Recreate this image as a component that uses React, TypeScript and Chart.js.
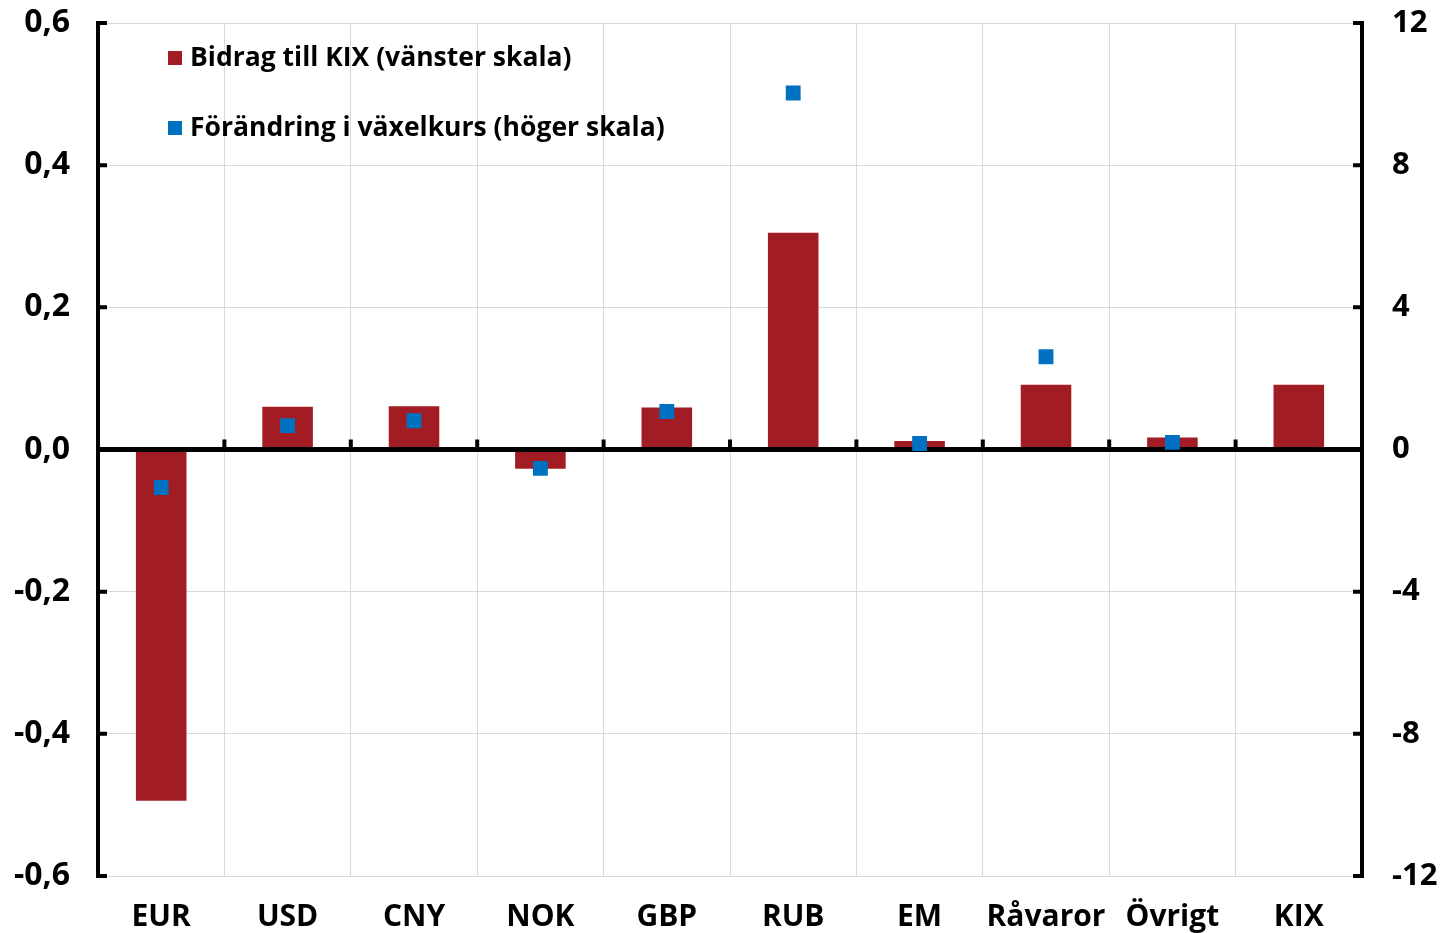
import React, { useEffect, useRef } from "react";
import { Chart, registerables } from "chart.js";

Chart.register(...registerables);

const categories = ["EUR", "USD", "CNY", "NOK", "GBP", "RUB", "EM", "Råvaror", "Övrigt", "KIX"];
const barLabel = "Bidrag till KIX (vänster skala)";
const pointLabel = "Förändring i växelkurs (höger skala)";
const barValues = [-0.494, 0.06, 0.061, -0.027, 0.059, 0.305, 0.012, 0.091, 0.017, 0.091];
const pointValues: (number | null)[] = [-1.07, 0.67, 0.81, -0.53, 1.07, 10.03, 0.17, 2.61, 0.2, null];
const leftTicks = { min: -0.6, max: 0.6, step: 0.2 };
const rightTicks = { min: -12, max: 12, step: 4 };

const RED = "#A21C24";
const BLUE = "#0070C0";
const GRID = "#d9d9d9";
const FONT = "'Open Sans'";

const axesPlugin = {
  id: "customAxes",
  afterDatasetDraw(chart: any, args: any) {
    if (args.index !== 0) return;
    const { ctx, chartArea } = chart;
    const y = chart.scales.y;
    const x = chart.scales.x;
    const y0 = y.getPixelForValue(0);
    ctx.save();
    ctx.strokeStyle = "#000";
    ctx.lineWidth = 5;
    ctx.beginPath();
    ctx.moveTo(chartArea.left, y0);
    ctx.lineTo(chartArea.right, y0);
    ctx.stroke();
    ctx.lineWidth = 4;
    for (let i = 1; i < categories.length; i++) {
      const bx = (x.getPixelForValue(i - 1) + x.getPixelForValue(i)) / 2;
      ctx.beginPath();
      ctx.moveTo(bx, y0);
      ctx.lineTo(bx, y0 - 10);
      ctx.stroke();
    }
    ctx.restore();
  },
  afterDraw(chart: any) {
    const { ctx, chartArea } = chart;
    const y = chart.scales.y;
    ctx.save();
    ctx.strokeStyle = "#000";
    ctx.lineWidth = 4;
    ctx.beginPath();
    ctx.moveTo(chartArea.left, chartArea.top - 2);
    ctx.lineTo(chartArea.left, chartArea.bottom + 2);
    ctx.moveTo(chartArea.right, chartArea.top - 2);
    ctx.lineTo(chartArea.right, chartArea.bottom + 2);
    ctx.stroke();
    y.ticks.forEach((t: any) => {
      const py = y.getPixelForValue(t.value);
      ctx.beginPath();
      ctx.moveTo(chartArea.left, py);
      ctx.lineTo(chartArea.left + 9, py);
      ctx.moveTo(chartArea.right, py);
      ctx.lineTo(chartArea.right - 9, py);
      ctx.stroke();
    });
    // legend
    const items = [
      { label: chart.data.datasets[0].label, color: RED, y: chartArea.top + 35 },
      { label: chart.data.datasets[1].label, color: BLUE, y: chartArea.top + 105 },
    ];
    ctx.font = `bold 26.5px ${FONT}`;
    ctx.textBaseline = "middle";
    ctx.textAlign = "left";
    items.forEach((it) => {
      ctx.fillStyle = it.color;
      ctx.fillRect(chartArea.left + 70, it.y - 7, 14, 14);
      ctx.fillStyle = "#000";
      ctx.fillText(it.label, chartArea.left + 92, it.y);
    });
    ctx.restore();
  },
};

const fmt = (v: number) => {
  const s = (Math.round(v * 10) / 10).toFixed(1).replace(".", ",");
  return s === "-0,0" ? "0,0" : s;
};

const noPad = (s: any) => {
  s.paddingTop = 0;
  s.paddingBottom = 0;
};

export default function App() {
  const ref = useRef<HTMLCanvasElement>(null);
  useEffect(() => {
    if (!ref.current) return;
    const chart = new Chart(ref.current, {
      type: "bar",
      data: {
        labels: categories,
        datasets: [
          {
            type: "bar",
            label: barLabel,
            data: barValues,
            backgroundColor: RED,
            yAxisID: "y",
            barPercentage: 0.4,
            categoryPercentage: 1,
            order: 2,
          },
          {
            type: "line",
            label: pointLabel,
            data: pointValues,
            yAxisID: "y1",
            showLine: false,
            pointStyle: "rect",
            pointRadius: 10.5,
            pointBorderWidth: 0,
            pointBackgroundColor: BLUE,
            pointBorderColor: BLUE,
            backgroundColor: BLUE,
            borderColor: BLUE,
            order: 1,
          } as any,
        ],
      },
      plugins: [axesPlugin],
      options: {
        animation: false,
        responsive: true,
        maintainAspectRatio: false,
        layout: { padding: { top: 15, left: 0, right: 0, bottom: 0 } },
        plugins: { legend: { display: false }, tooltip: { enabled: false } },
        scales: {
          x: {
            grid: { color: GRID, lineWidth: 1, drawTicks: false, offset: true },
            border: { display: false },
            ticks: { color: "#000", font: { family: FONT, size: 30, weight: "bold" }, padding: 23, maxRotation: 0, autoSkip: false },
            afterFit: (s: any) => { s.height = 57; s.paddingLeft = 0; s.paddingRight = 0; },
          },
          y: {
            position: "left",
            min: leftTicks.min,
            max: leftTicks.max,
            grid: { color: GRID, lineWidth: 1, drawTicks: false },
            border: { display: false },
            ticks: {
              stepSize: leftTicks.step,
              color: "#000",
              font: { family: FONT, size: 32, weight: "bold" },
              padding: 28,
              callback: (v: any) => fmt(Number(v)),
            },
            afterFit: (s: any) => { s.width = 90; noPad(s); },
          },
          y1: {
            position: "right",
            min: rightTicks.min,
            max: rightTicks.max,
            grid: { display: false, drawTicks: false },
            border: { display: false },
            ticks: {
              stepSize: rightTicks.step,
              color: "#000",
              font: { family: FONT, size: 31, weight: "bold" },
              padding: 30,
              callback: (v: any) => String(Math.round(Number(v))),
            },
            afterFit: (s: any) => { s.width = 76; noPad(s); },
          },
        },
      },
    });
    return () => chart.destroy();
  }, []);
  return (
    <div style={{ position: "fixed", top: 8, left: 8, width: 1430, height: 925 }}>
      <canvas ref={ref} />
    </div>
  );
}
